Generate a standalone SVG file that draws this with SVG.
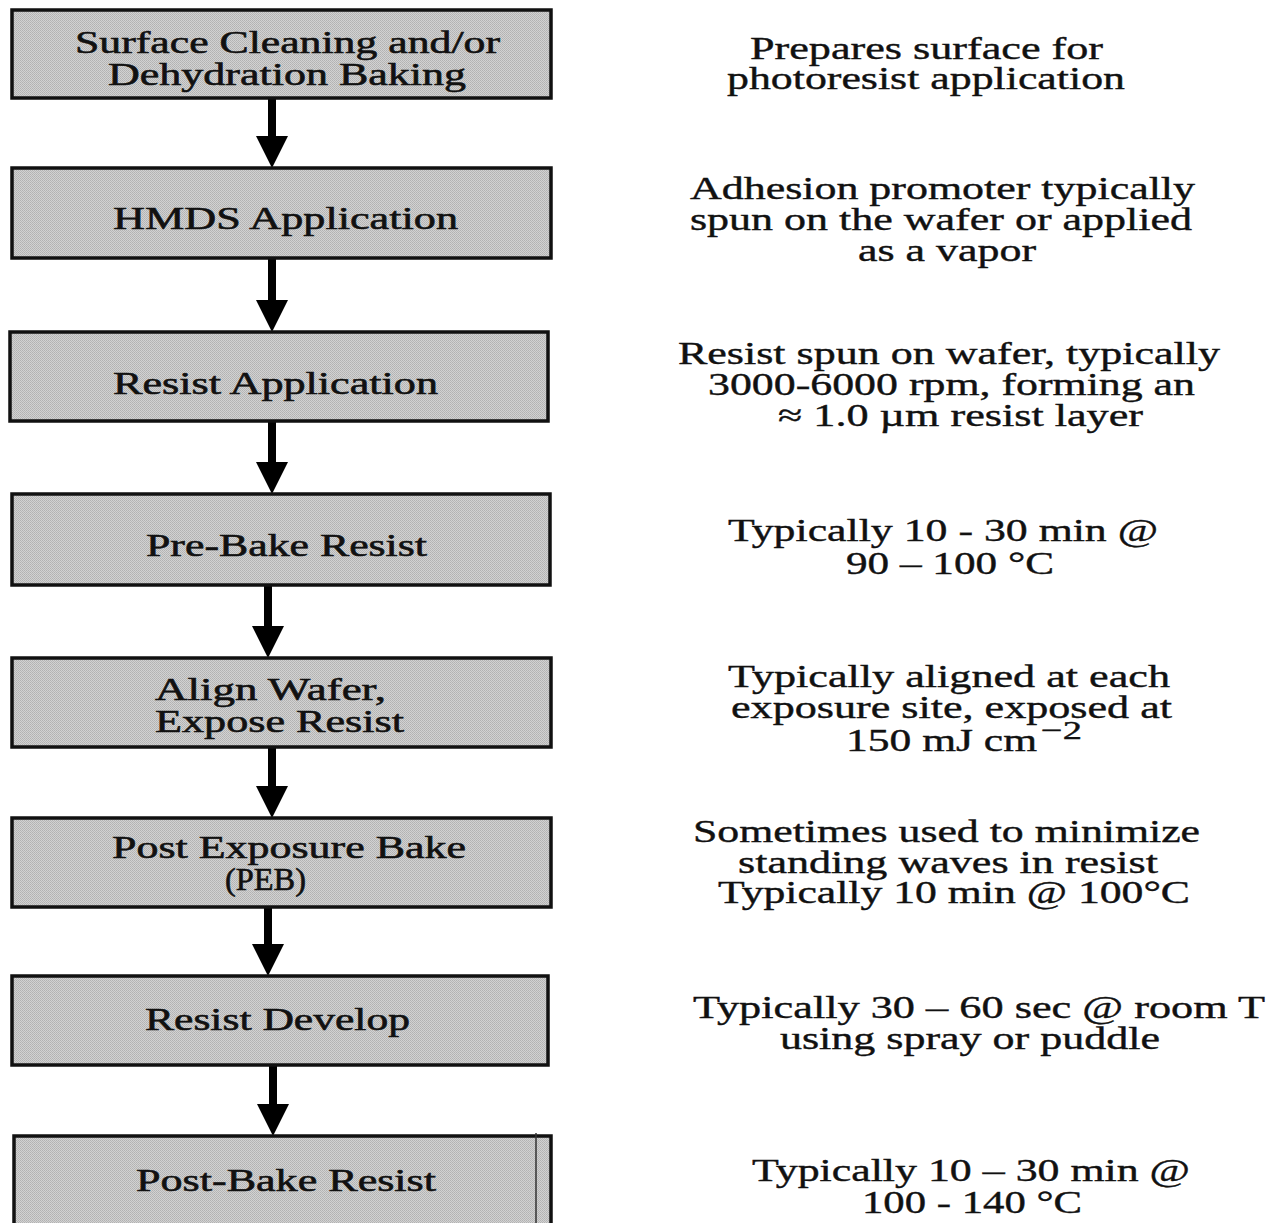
<svg xmlns="http://www.w3.org/2000/svg" width="1270" height="1223" viewBox="0 0 1270 1223">
<defs>
<pattern id="ht" width="2" height="2" patternUnits="userSpaceOnUse">
<rect width="2" height="2" fill="#d2d2d2"/>
<rect x="0" y="0" width="1" height="1" fill="#b2b2b2"/>
<rect x="1" y="1" width="1" height="1" fill="#b8b8b8"/>
</pattern>
</defs>
<style>
.box{fill:url(#ht);stroke:#111;stroke-width:3.5}
.bt{font-family:"Liberation Serif","Times New Roman",serif;font-size:32px;fill:#111;stroke:#111;stroke-width:0.6}
.rt{font-family:"Liberation Serif","Times New Roman",serif;font-size:32px;fill:#111;stroke:#111;stroke-width:0.4}
.sup{font-family:"Liberation Serif","Times New Roman",serif;font-size:26px;fill:#111;stroke:#111;stroke-width:0.4}
.ar{fill:#000}
</style>
<rect width="1270" height="1223" fill="#fff"/>

<g id="connectors">
<path class="ar" d="M268,98 h8 v38 h12 l-16,32 l-16,-32 h12 z"/>
<path class="ar" d="M268,258 h8 v42 h12 l-16,32 l-16,-32 h12 z"/>
<path class="ar" d="M268,421 h8 v41 h12 l-16,32 l-16,-32 h12 z"/>
<path class="ar" d="M264,585 h8 v41 h12 l-16,32 l-16,-32 h12 z"/>
<path class="ar" d="M268,747 h8 v39 h12 l-16,32 l-16,-32 h12 z"/>
<path class="ar" d="M264,907 h8 v37 h12 l-16,32 l-16,-32 h12 z"/>
<path class="ar" d="M269,1065 h8 v39 h12 l-16,32 l-16,-32 h12 z"/>
</g>

<g id="n1">
<rect class="box" x="12" y="10" width="539" height="88"/>
<text class="bt" x="75" y="53" textLength="425" lengthAdjust="spacingAndGlyphs">Surface Cleaning and/or</text>
<text class="bt" x="108" y="85" textLength="358" lengthAdjust="spacingAndGlyphs">Dehydration Baking</text>
</g>
<g id="d1">
<text class="rt" x="750" y="59" textLength="353" lengthAdjust="spacingAndGlyphs">Prepares surface for</text>
<text class="rt" x="727" y="89" textLength="398" lengthAdjust="spacingAndGlyphs">photoresist application</text>
</g>

<g id="n2">
<rect class="box" x="12" y="168" width="539" height="90"/>
<text class="bt" x="113" y="229" textLength="345" lengthAdjust="spacingAndGlyphs">HMDS Application</text>
</g>
<g id="d2">
<text class="rt" x="690" y="199" textLength="505" lengthAdjust="spacingAndGlyphs">Adhesion promoter typically</text>
<text class="rt" x="690" y="230" textLength="502" lengthAdjust="spacingAndGlyphs">spun on the wafer or applied</text>
<text class="rt" x="858" y="261" textLength="178" lengthAdjust="spacingAndGlyphs">as a vapor</text>
</g>

<g id="n3">
<rect class="box" x="10" y="332" width="538" height="89"/>
<text class="bt" x="113" y="394" textLength="325" lengthAdjust="spacingAndGlyphs">Resist Application</text>
</g>
<g id="d3">
<text class="rt" x="678" y="364" textLength="542" lengthAdjust="spacingAndGlyphs">Resist spun on wafer, typically</text>
<text class="rt" x="708" y="395" textLength="487" lengthAdjust="spacingAndGlyphs">3000-6000 rpm, forming an</text>
<text class="rt" x="778" y="426" textLength="365" lengthAdjust="spacingAndGlyphs">≈ 1.0 µm resist layer</text>
</g>

<g id="n4">
<rect class="box" x="12" y="494" width="538" height="91"/>
<text class="bt" x="146" y="556" textLength="281" lengthAdjust="spacingAndGlyphs">Pre-Bake Resist</text>
</g>
<g id="d4">
<text class="rt" x="728" y="541" textLength="430" lengthAdjust="spacingAndGlyphs">Typically 10 - 30 min @</text>
<text class="rt" x="846" y="574" textLength="208" lengthAdjust="spacingAndGlyphs">90 – 100 °C</text>
</g>

<g id="n5">
<rect class="box" x="12" y="658" width="539" height="89"/>
<text class="bt" x="155" y="700" textLength="231" lengthAdjust="spacingAndGlyphs">Align Wafer,</text>
<text class="bt" x="155" y="732" textLength="249" lengthAdjust="spacingAndGlyphs">Expose Resist</text>
</g>
<g id="d5">
<text class="rt" x="728" y="687" textLength="442" lengthAdjust="spacingAndGlyphs">Typically aligned at each</text>
<text class="rt" x="731" y="718" textLength="441" lengthAdjust="spacingAndGlyphs">exposure site, exposed at</text>
<text class="rt" x="846" y="751" textLength="191" lengthAdjust="spacingAndGlyphs">150 mJ cm</text>
<text class="sup" x="1041" y="739" textLength="41" lengthAdjust="spacingAndGlyphs">−2</text>
</g>

<g id="n6">
<rect class="box" x="12" y="818" width="539" height="89"/>
<text class="bt" x="112" y="858" textLength="354" lengthAdjust="spacingAndGlyphs">Post Exposure Bake</text>
<text class="bt" x="225" y="890" textLength="81" lengthAdjust="spacingAndGlyphs">(PEB)</text>
</g>
<g id="d6">
<text class="rt" x="693" y="842" textLength="507" lengthAdjust="spacingAndGlyphs">Sometimes used to minimize</text>
<text class="rt" x="738" y="873" textLength="420" lengthAdjust="spacingAndGlyphs">standing waves in resist</text>
<text class="rt" x="718" y="903" textLength="472" lengthAdjust="spacingAndGlyphs">Typically 10 min @ 100°C</text>
</g>

<g id="n7">
<rect class="box" x="12" y="976" width="536" height="89"/>
<text class="bt" x="145" y="1030" textLength="265" lengthAdjust="spacingAndGlyphs">Resist Develop</text>
</g>
<g id="d7">
<text class="rt" x="693" y="1018" textLength="572" lengthAdjust="spacingAndGlyphs">Typically 30 – 60 sec @ room T</text>
<text class="rt" x="780" y="1049" textLength="380" lengthAdjust="spacingAndGlyphs">using spray or puddle</text>
</g>

<g id="n8">
<rect class="box" x="14" y="1136" width="537" height="100"/>
<line x1="536" y1="1133" x2="536" y2="1223" stroke="#333" stroke-width="1.5"/>
<text class="bt" x="136" y="1191" textLength="300" lengthAdjust="spacingAndGlyphs">Post-Bake Resist</text>
</g>
<g id="d8">
<text class="rt" x="752" y="1181" textLength="438" lengthAdjust="spacingAndGlyphs">Typically 10 – 30 min @</text>
<text class="rt" x="862" y="1213" textLength="220" lengthAdjust="spacingAndGlyphs">100 - 140 °C</text>
</g>
</svg>
